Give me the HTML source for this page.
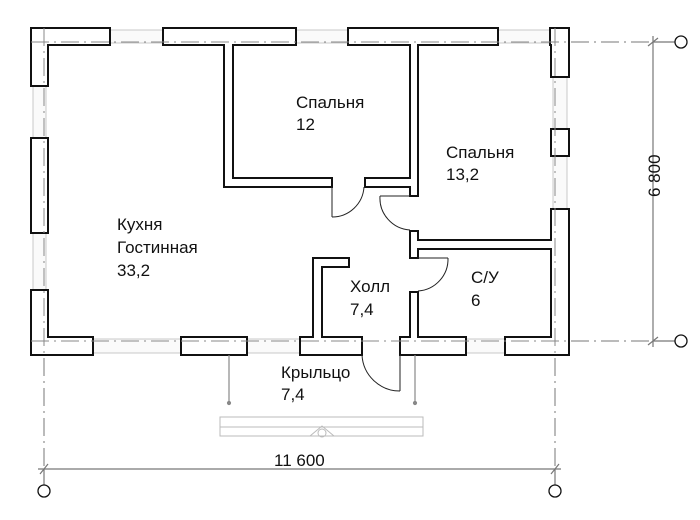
<!DOCTYPE html>
<html><head><meta charset="utf-8"><style>
html,body{margin:0;padding:0;background:#fff;width:700px;height:520px;overflow:hidden}
svg{display:block}
text{font-family:"Liberation Sans",sans-serif;font-size:17px;fill:#111}
</style></head><body>
<svg width="700" height="520" viewBox="0 0 700 520" xmlns="http://www.w3.org/2000/svg">
<!-- axes -->
<g stroke="#777" stroke-width="1" fill="none" stroke-dasharray="18,5,2,5">
<line x1="31" y1="42" x2="665" y2="42"/>
<line x1="31" y1="341" x2="665" y2="341"/>
<line x1="44" y1="28" x2="44" y2="480"/>
<line x1="555" y1="28" x2="555" y2="480"/>
</g>
<!-- windows -->
<g fill="#fafafa" stroke="#c8c8c8" stroke-width="1">
<rect x="110" y="30" width="53" height="13"/>
<rect x="296" y="30" width="52" height="13"/>
<rect x="498" y="30" width="52" height="13"/>
<rect x="33" y="86" width="13" height="52"/>
<rect x="33" y="233" width="13" height="57"/>
<rect x="553" y="77" width="14" height="52"/>
<rect x="553" y="156" width="14" height="53"/>
<rect x="93" y="339" width="88" height="14"/>
<rect x="247" y="339" width="53" height="14"/>
<rect x="466" y="339" width="39" height="14"/>
</g>
<!-- walls -->
<g fill="#fff" stroke="#111" stroke-width="2" stroke-linejoin="miter">
<polygon points="31,28 110,28 110,45 48,45 48,86 31,86"/>
<polygon points="163,28 296,28 296,45 233,45 233,178 332,178 332,187 224,187 224,45 163,45"/>
<polygon points="348,28 498,28 498,45 418,45 418,196 410,196 410,187 365,187 365,178 410,178 410,45 348,45"/>
<polygon points="550,28 569,28 569,77 551,77 551,45 550,45"/>
<rect x="551" y="129" width="18" height="27"/>
<polygon points="551,209 569,209 569,355 505,355 505,337 551,337 551,249 418,249 418,258 410,258 410,231 418,231 418,240 551,240"/>
<polygon points="400,355 466,355 466,337 418,337 418,292 410,292 410,337 400,337"/>
<polygon points="300,355 362,355 362,337 322,337 322,267 349,267 349,258 313,258 313,337 300,337"/>
<rect x="181" y="337" width="66" height="18"/>
<polygon points="31,290 48,290 48,337 93,337 93,355 31,355"/>
<rect x="31" y="138" width="17" height="95"/>
</g>
<g stroke="#888" stroke-width="1" fill="none" stroke-dasharray="18,5,2,5">
<line x1="31" y1="42" x2="569" y2="42"/>
<line x1="31" y1="341" x2="569" y2="341"/>
<line x1="44" y1="28" x2="44" y2="355"/>
<line x1="555" y1="28" x2="555" y2="355"/>
</g>
<!-- doors -->
<g stroke="#222" stroke-width="1" fill="none">
<line x1="332" y1="187" x2="332" y2="217"/>
<path d="M332,217 A32,32 0 0 0 364,187"/>
<line x1="410" y1="196" x2="380" y2="196"/>
<path d="M380,196 A32,32 0 0 0 410,230"/>
<path d="M448,258 A32,32 0 0 1 418,291"/>
<line x1="418" y1="258" x2="448" y2="258"/>
<line x1="400" y1="355" x2="400" y2="391"/>
<path d="M362,355 A38,38 0 0 0 400,391"/>
</g>
<g stroke="#888" stroke-width="1.2" fill="#888">
<line x1="229" y1="355" x2="229" y2="403"/><circle cx="229" cy="403" r="1.5"/>
<line x1="415" y1="355" x2="415" y2="403"/><circle cx="415" cy="403" r="1.5"/>
</g>
<g stroke="#bbb" stroke-width="1" fill="none">
<rect x="220" y="417" width="203" height="19"/>
<line x1="220" y1="427" x2="423" y2="427"/>
<path d="M310,436 L322,426 L334,436"/>
<circle cx="322" cy="433" r="4"/>
</g>
<g stroke="#777" stroke-width="1.2" fill="none">
<line x1="38" y1="469" x2="561" y2="469"/>
<line x1="40" y1="474" x2="48" y2="464"/><line x1="551" y1="474" x2="559" y2="464"/>
<line x1="653" y1="36" x2="653" y2="347"/>
<line x1="648" y1="46" x2="658" y2="38"/><line x1="648" y1="345" x2="658" y2="337"/>
<line x1="653" y1="42" x2="675" y2="42"/><line x1="653" y1="341" x2="675" y2="341"/>
<line x1="44" y1="469" x2="44" y2="485"/><line x1="555" y1="469" x2="555" y2="485"/>
</g>
<g stroke="#111" stroke-width="1.3" fill="#fff">
<circle cx="44" cy="491" r="6"/><circle cx="555" cy="491" r="6"/>
<circle cx="681" cy="42" r="6"/><circle cx="681" cy="341" r="6"/>
</g>
<text x="274" y="466">11 600</text>
<text transform="translate(660,197) rotate(-90)">6 800</text>
<text x="296" y="108">Спальня</text><text x="296" y="130">12</text>
<text x="446" y="158">Спальня</text><text x="446" y="180">13,2</text>
<text x="117" y="230">Кухня</text><text x="117" y="253">Гостинная</text><text x="117" y="276">33,2</text>
<text x="350" y="292">Холл</text><text x="350" y="315">7,4</text>
<text x="471" y="283">С/У</text><text x="471" y="306">6</text>
<text x="281" y="378">Крыльцо</text><text x="281" y="400">7,4</text>
</svg>
</body></html>
